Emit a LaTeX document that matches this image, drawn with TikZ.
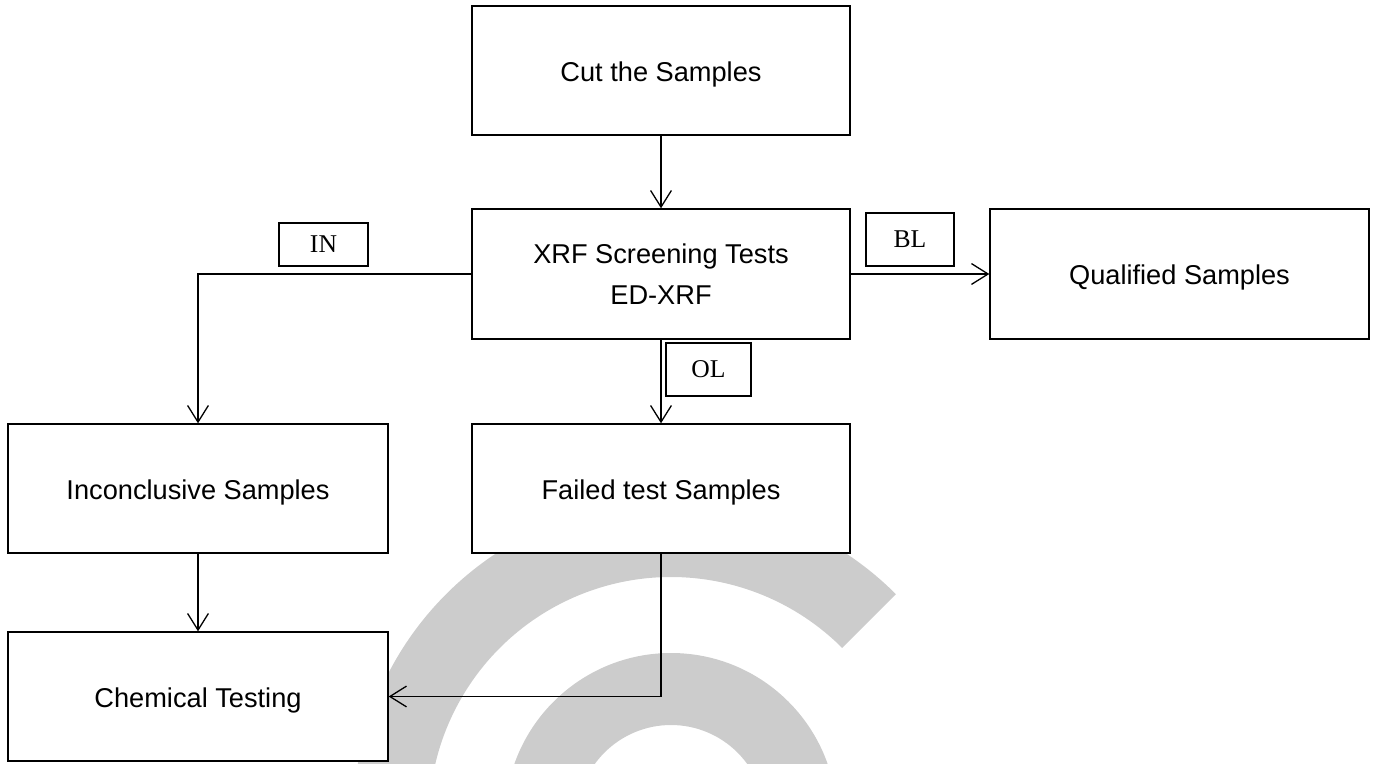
\documentclass[tikz,border=0pt]{standalone}
\usepackage{fontspec}
\setmainfont{Liberation Sans}
\newfontfamily\lblfont{Liberation Serif}
\usetikzlibrary{arrows.meta}
\definecolor{wmgray}{HTML}{CCCCCC}
\begin{document}
\begin{tikzpicture}[x=0.5pt,y=-0.5pt,
  box/.style={draw, fill=white, line width=0.7pt, inner sep=0pt,
    font=\fontsize{13.6}{20.5}\selectfont, align=center},
  onebox/.style={box, text height=14pt, text depth=3pt},
  lbl/.style={draw, fill=white, line width=0.55pt, inner sep=0pt,
    font=\lblfont\fontsize{12.8}{15}\selectfont},
  arr/.style={line width=0.65pt, -{Straight Barb[length=8.3pt,width=10.4pt]}},
  wm/.style={fill=wmgray}]
\useasboundingbox (0,0) rectangle (1380,764);
% watermark
\begin{scope}
\clip (0,0) rectangle (1380,764);
\begin{scope}[shift={(671,819)}]
\fill[wm] (-45:318) arc[start angle=-45, end angle=-240, radius=318]
  -- (-240:242) arc[start angle=-240, end angle=-45, radius=242] -- cycle;
\fill[wm, even odd rule] (0,0) circle[radius=166] (0,0) circle[radius=94];
\end{scope}
\end{scope}
% boxes
\node[onebox, minimum width=189pt, minimum height=64.5pt] (cut) at (661,70.5) {Cut the Samples};
\node[box, minimum width=189pt, minimum height=65pt] (xrf) at (661,274) {XRF Screening Tests\\ED-XRF};
\node[onebox, minimum width=189.5pt, minimum height=65pt] (qual) at (1179.5,274) {Qualified Samples};
\node[onebox, minimum width=190pt, minimum height=64.5pt] (incon) at (198,488.5) {Inconclusive Samples};
\node[onebox, minimum width=189pt, minimum height=64.5pt] (fail) at (661,488.5) {Failed test Samples};
\node[onebox, minimum width=190pt, minimum height=64.5pt] (chem) at (198,696.5) {Chemical Testing};
% connectors
\draw[arr] (cut.south) -- (xrf.north);
\draw[arr] (xrf.west) -| (incon.north);
\draw[arr] (xrf.east) -- (qual.west);
\draw[arr] (xrf.south) -- (fail.north);
\draw[arr] (incon.south) -- (chem.north);
\draw[arr] (fail.south) |- (chem.east);
% labels
\node[lbl, minimum width=44.5pt, minimum height=21.5pt] (in) at (323.5,244.5) {IN};
\node[lbl, minimum width=44pt, minimum height=26.5pt] (bl) at (910,239.5) {BL};
\node[lbl, minimum width=42.5pt, minimum height=26.5pt] (ol) at (708.5,369.5) {OL};
\end{tikzpicture}
\end{document}
